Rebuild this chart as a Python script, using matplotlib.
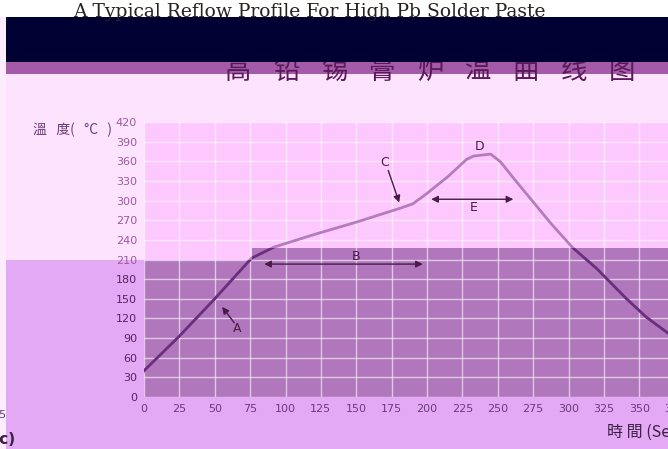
import matplotlib
matplotlib.use('Agg')
import matplotlib.pyplot as plt
from matplotlib.patches import Rectangle, Polygon

plt.rcParams['font.family'] = ['DejaVu Sans', 'Noto Sans CJK TC']

# reflow profile (seconds, deg C)
time_s = [0, 25, 50, 76, 92, 120, 150, 182, 190, 200, 215, 228, 233, 245, 252,
          262, 275, 288, 303, 320, 341, 355, 370, 390]
temp_c = [40, 93, 150, 212, 229, 248, 267, 289, 295, 311, 337, 363, 368, 371, 359,
          332, 298, 264, 228, 196, 150, 122, 98, 70]

x_ticks = list(range(0, 401, 25))
y_ticks = list(range(0, 421, 30))

# shaded lower band of the plot (step edge)
band_x = [0, 0, 76, 76, 400, 400]
band_y = [0, 210, 210, 227, 227, 0]

title_en = "A Typical Reflow Profile For High Pb Solder Paste"
title_cn = ["高", "铅", "锡", "膏", "炉", "温", "曲", "线", "图"]

W, H = 668, 449
fig = plt.figure(figsize=(W / 100, H / 100), dpi=100)
fig.patch.set_facecolor('white')


def px_rect(x0, y0, x1, y1, color, z):
    # pixel box, y measured from the top
    r = Rectangle((x0 / W, 1 - y1 / H), (x1 - x0) / W, (y1 - y0) / H,
                  transform=fig.transFigure, facecolor=color, edgecolor='none', zorder=z)
    fig.add_artist(r)


px_rect(0, 17, 6, H, '#fcecfc', -3)
px_rect(6, 74, W, 260, '#fde3fd', -3)
px_rect(6, 260, W, H, '#e4a9f5', -3)
px_rect(6, 62, W, 74, '#a35aa8', -3)
px_rect(6, 17, W, 62, '#000033', 2)

fig.text(73 / W, 1 - 17 / H, title_en, family='DejaVu Serif', fontsize=13.5,
         color='#2a2020', ha='left', va='baseline', zorder=3)
for i, ch in enumerate(title_cn):
    fig.text((238 + 48 * i) / W, 1 - 79 / H, ch, family='Noto Sans CJK SC',
             fontsize=19, fontweight='medium', color='#5a1a5a', ha='center',
             va='baseline', zorder=1)

ax = fig.add_axes([144 / W, 1 - 397 / H, 566 / W, 275 / H])
ax.set_facecolor('#fdc8fd')
band = Polygon(list(zip(band_x, band_y)), closed=True, facecolor='#b077bd',
               edgecolor='none', zorder=0.2)
ax.add_patch(band)

upper = ax.plot(time_s, temp_c, color='#b57cbd', linewidth=2, zorder=3)[0]
lower = ax.plot(time_s, temp_c, color='#6b2d7d', linewidth=2, zorder=3.1)[0]
lower.set_clip_path(band)

ax.set_xlim(0, 400)
ax.set_ylim(0, 420)
ax.set_xticks(x_ticks)
ax.set_yticks(y_ticks)
ax.set_axisbelow(True)
ax.grid(True, color='white', alpha=0.6, linewidth=1)
for s in ax.spines.values():
    s.set_visible(False)
ax.tick_params(length=0, labelsize=8, pad=5, labelcolor='#6a3a7a')
for lab, v in zip(ax.get_yticklabels(), y_ticks):
    lab.set_color('#9a5aa0' if v >= 210 else '#5a2060')

arrow = dict(arrowstyle='-|>', color='#4a1a4a', lw=1, mutation_scale=10)
both = dict(arrowstyle='<|-|>', color='#4a1a4a', lw=1, mutation_scale=10)
txt = dict(fontsize=9, color='#4a1a4a', ha='center', va='center')

ax.annotate('', xy=(54, 141), xytext=(65, 110), arrowprops=arrow)
ax.text(66, 104, 'A', **txt)
ax.annotate('', xy=(83, 203), xytext=(199, 203), arrowprops=both)
ax.text(150, 214, 'B', **txt)
ax.annotate('', xy=(181, 293), xytext=(172, 350), arrowprops=arrow)
ax.text(170, 358, 'C', **txt)
ax.text(237, 383, 'D', **txt)
ax.annotate('', xy=(201, 302), xytext=(263, 302), arrowprops=both)
ax.text(233, 289, 'E', **txt)

fig.text(33 / W, 1 - 130 / H, '溫   度(   °C   )', fontsize=10, color='#6a3a7a',
         ha='left', va='center', family=['Noto Sans CJK TC', 'DejaVu Sans'])
fig.text(607 / W, 1 - 432 / H, '時 間 (Sec)', fontsize=11.5, color='#3a2040',
         ha='left', va='center', family=['Noto Sans CJK TC', 'DejaVu Sans'])
fig.text(6 / W, 1 - 415 / H, '375', fontsize=8, color='#6a3a7a', ha='right', va='center')
fig.text(16 / W, 1 - 440 / H, '(Sec)', fontsize=11, fontweight='bold', color='#3a2040',
         ha='right', va='center')

plt.savefig('out.png', dpi=100)
plt.close()
